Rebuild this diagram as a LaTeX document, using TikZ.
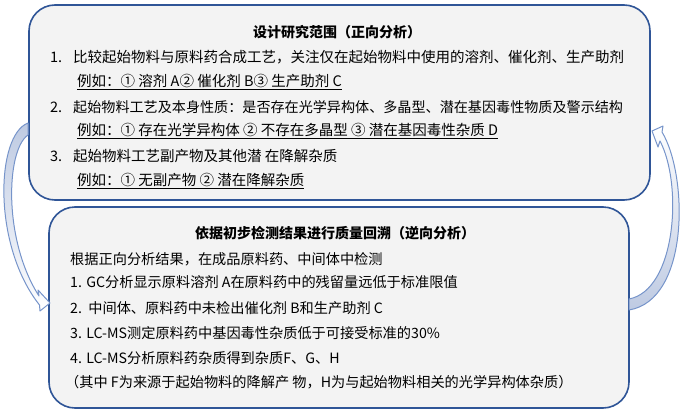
\documentclass[tikz,border=0pt]{standalone}
\usepackage{fontspec}
\setmainfont{Noto Sans CJK SC}
\usetikzlibrary{positioning}
\usepackage{xcolor}
\definecolor{PanelBlue}{RGB}{47,85,151}
\definecolor{PanelFill}{RGB}{243,243,243}
\definecolor{LoopBlue}{RGB}{118,148,202}
\definecolor{LoopFill}{RGB}{190,202,226}

\begin{document}
\begin{tikzpicture}[x=1pt, y=-1pt,
          panel/.style={rectangle, draw=PanelBlue, fill=PanelFill, line width=1.6pt, rounded corners=26pt},
          heading/.style={anchor=base, inner sep=0pt, font=\fontsize{14}{16}\selectfont\bfseries},
          item/.style={anchor=base west, inner sep=0pt, font=\fontsize{14.5}{17}\selectfont},
          check/.style={anchor=base west, inner sep=0pt, font=\fontsize{14.2}{17}\selectfont},
          loop/.style={draw=LoopBlue, line width=1pt, line join=round}
        ]
          \useasboundingbox (0,0) rectangle (680,415);

          % the two panels
          \node (fwd) [panel, minimum width=621pt, minimum height=195pt] at (339.5,102.5) {};
          \node (bwd) [panel, minimum width=580pt, minimum height=201pt] at (339,307.5) {};

          % forward analysis
          \node (fwdtitle) [heading] at (337,37.5) {设计研究范围（正向分析）};
          \node (n1) [item] at (50,62.5) {1.};
          \node (l1) [item] at (73,62.5) {比较起始物料与原料药合成工艺，关注仅在起始物料中使用的溶剂、催化剂、生产助剂};
          \node (e1) [item] at (77,86.5) {\underline{例如：① 溶剂 A② 催化剂 B③ 生产助剂 C}};
          \node (n2) [item] at (50,112.5) {2.};
          \node (l2) [item, font=\fontsize{14.1}{17}\selectfont] at (73,112.5) {起始物料工艺及本身性质：是否存在光学异构体、多晶型、潜在基因毒性物质及警示结构};
          \node (e2) [item] at (77,135.5) {\underline{例如：① 存在光学异构体 ② 不存在多晶型 ③ 潜在基因毒性杂质 D}};
          \node (n3) [item] at (50,161.5) {3.};
          \node (l3) [item] at (73,161.5) {起始物料工艺副产物及其他潜 在降解杂质};
          \node (e3) [item] at (77,185.5) {\underline{例如：① 无副产物 ② 潜在降解杂质}};

          % backward analysis
          \node (bwdtitle) [heading] at (335,238.5) {依据初步检测结果进行质量回溯（逆向分析）};
          \node (b0) [check] at (70,264) {根据正向分析结果，在成品原料药、中间体中检测};
          \node (b1) [check] at (70,287.5) {1. GC分析显示原料溶剂 A在原料药中的残留量远低于标准限值};
          \node (b2) [check] at (70,313) {2.\ \ 中间体、原料药中未检出催化剂 B和生产助剂 C};
          \node (b3) [check] at (70,338.5) {3. LC-MS测定原料药中基因毒性杂质低于可接受标准的30\%};
          \node (b4) [check] at (70,363.5) {4. LC-MS分析原料药杂质得到杂质F、G、H};
          \node (b5) [check] at (65,387.5) {（其中 F为来源于起始物料的降解产 物，H为与起始物料相关的光学异构体杂质）};

          % curved block arrows
          \path[loop, top color=LoopFill, bottom color=white]
            (28,123) .. controls (-4,135) and (-8,245) .. (39.5,305) -- (40,311) -- (50,303)
            -- (38,290) -- (39,296) .. controls (3,240) and (6,150) .. (28,135) -- cycle;
          \path[loop, top color=white, bottom color=LoopFill]
            (629,299) .. controls (676,290) and (683,185) .. (660,141) -- (658,147) -- (652,131)
            -- (663,126) -- (662,132) .. controls (688,175) and (690,300) .. (629,310) -- cycle;
        \end{tikzpicture}
\end{document}
